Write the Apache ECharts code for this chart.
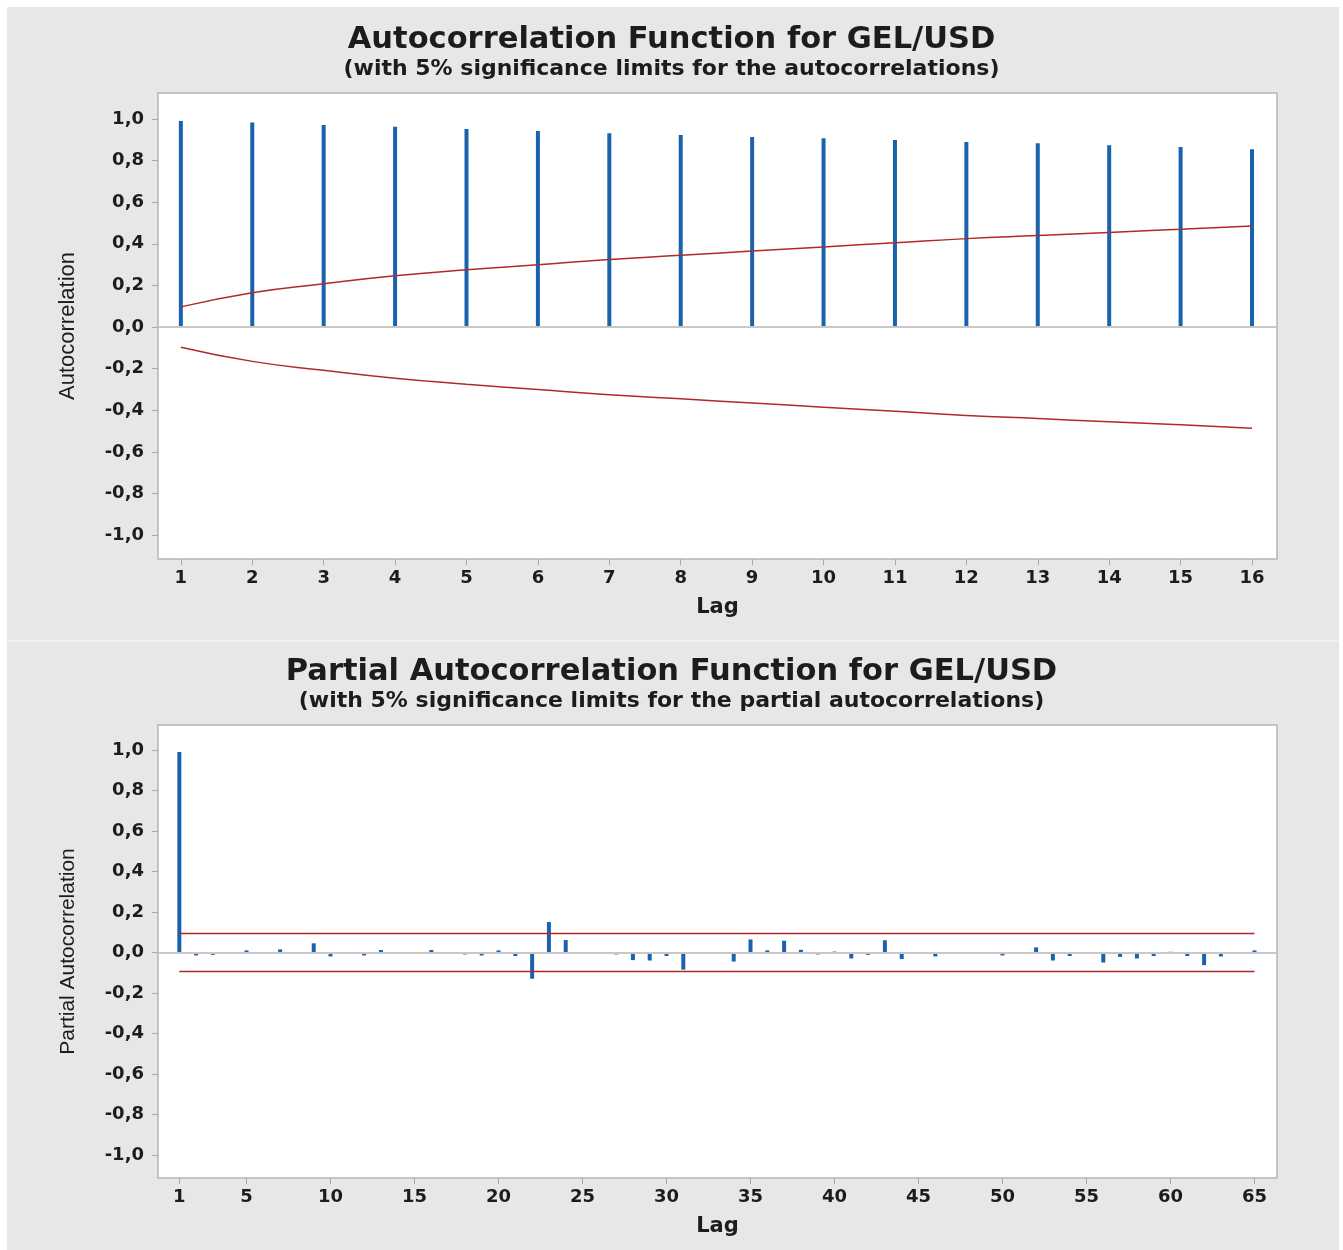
<!DOCTYPE html>
<html>
<head>
<meta charset="utf-8">
<script src="https://cdn.jsdelivr.net/npm/echarts@6/dist/echarts.min.js"></script>
<style>
  html, body { margin: 0; padding: 0; background: #ffffff; }
  #chart { width: 1343px; height: 1250px; }
</style>
</head>
<body>
<div id="chart"></div>
<script>
// ---------- data ----------
const acfLags = [1, 2, 3, 4, 5, 6, 7, 8, 9, 10, 11, 12, 13, 14, 15, 16];
const acfValues = [0.990, 0.983, 0.971, 0.963, 0.952, 0.942, 0.932, 0.923, 0.913, 0.908, 0.899, 0.889, 0.884, 0.874, 0.865, 0.855];
const acfLimits = [0.097, 0.165, 0.208, 0.246, 0.275, 0.300, 0.325, 0.345, 0.365, 0.385, 0.405, 0.425, 0.440, 0.455, 0.470, 0.486];

const pacfValues = [
  0.990, -0.015, -0.012, 0.002, 0.010, -0.003, 0.015, 0.000, 0.045, -0.020,
  0.000, -0.015, 0.012, 0.000, 0.000, 0.012, 0.000, -0.010, -0.015, 0.010,
  -0.018, -0.130, 0.150, 0.061, 0.000, 0.000, -0.010, -0.038, -0.040, -0.018,
  -0.085, 0.000, 0.000, -0.045, 0.064, 0.010, 0.058, 0.013, -0.010, 0.004,
  -0.030, -0.012, 0.060, -0.033, 0.000, -0.020, 0.000, 0.000, 0.000, -0.015,
  -0.004, 0.025, -0.040, -0.018, 0.000, -0.050, -0.022, -0.030, -0.018, 0.003,
  -0.018, -0.063, -0.020, 0.000, 0.010
];
const pacfLags = pacfValues.map((v, i) => i + 1);
const pacfLimit = 0.094;

const yTicks = [-1.0, -0.8, -0.6, -0.4, -0.2, 0.0, 0.2, 0.4, 0.6, 0.8, 1.0];
const acfXTicks = acfLags.slice();
const pacfXTicks = [1, 5, 10, 15, 20, 25, 30, 35, 40, 45, 50, 55, 60, 65];

const titles = {
  acf: 'Autocorrelation Function for GEL/USD',
  acfSub: '(with 5% significance limits for the autocorrelations)',
  pacf: 'Partial Autocorrelation Function for GEL/USD',
  pacfSub: '(with 5% significance limits for the partial autocorrelations)'
};

// ---------- styles ----------
const TXT = '#1c1c1c';
const BAR = '#1b62ad';
const RED = '#b02a2a';
const FONT = 'DejaVu Sans';

function yAxisCfg(gridIndex, name, min, max, nameSize) {
  return {
    type: 'value', gridIndex, min, max,
    name, nameLocation: 'middle', nameGap: 79,
    nameTextStyle: { fontFamily: "'Liberation Sans Narrow', 'Liberation Sans'", fontSize: nameSize, color: TXT },
    splitLine: { show: false },
    axisLine: { show: false, onZero: false },
    axisTick: { show: true, length: 6, customValues: yTicks, lineStyle: { color: '#a8a8a8' } },
    axisLabel: {
      customValues: yTicks, margin: 14, color: TXT, fontFamily: FONT, fontWeight: 'bold', fontSize: 18,
      formatter: v => v.toFixed(1).replace('.', ',')
    }
  };
}
function xAxisCfg(gridIndex, min, max, ticks) {
  return {
    type: 'value', gridIndex, min, max,
    name: 'Lag', nameLocation: 'middle', nameGap: 38,
    nameTextStyle: { fontFamily: FONT, fontWeight: 'bold', fontSize: 21, color: TXT },
    splitLine: { show: false },
    axisLine: { show: false, onZero: false },
    axisTick: { show: true, length: 6, customValues: ticks, lineStyle: { color: '#a8a8a8' } },
    axisLabel: { customValues: ticks, margin: 10, color: TXT, fontFamily: FONT, fontWeight: 'bold', fontSize: 18 }
  };
}

const zeroLine = {
  silent: true, symbol: 'none', label: { show: false },
  lineStyle: { color: '#c8c8c8', width: 2, type: 'solid' },
  data: [{ yAxis: 0 }]
};

const titleStyle = { fontFamily: FONT, fontWeight: 'bold', fontSize: 30.5, color: TXT };
const subStyle = { fontFamily: FONT, fontWeight: 'bold', fontSize: 22, color: TXT };

const option = {
  backgroundColor: '#ffffff',
  animation: false,
  graphic: [
    { type: 'rect', shape: { x: 7, y: 7, width: 1332, height: 1243 }, style: { fill: '#e6e7e7' }, z: -10 },
    { type: 'line', shape: { x1: 7, y1: 641, x2: 1339, y2: 641 }, style: { stroke: '#f3f3f3', lineWidth: 1.5 }, z: -9 }
  ],
  title: [
    { text: titles.acf, subtext: titles.acfSub, left: 'center', top: 20, itemGap: 2, textStyle: titleStyle, subtextStyle: subStyle },
    { text: titles.pacf, subtext: titles.pacfSub, left: 'center', top: 652, itemGap: 2, textStyle: titleStyle, subtextStyle: subStyle }
  ],
  grid: [
    { left: 158, top: 93, width: 1119, height: 466, show: true, backgroundColor: '#ffffff', borderColor: '#b5b5b5', borderWidth: 1.5 },
    { left: 158, top: 725, width: 1119, height: 453, show: true, backgroundColor: '#ffffff', borderColor: '#b5b5b5', borderWidth: 1.5 }
  ],
  xAxis: [
    xAxisCfg(0, 0.68, 16.35, acfXTicks),
    xAxisCfg(1, -0.27, 66.34, pacfXTicks)
  ],
  yAxis: [
    yAxisCfg(0, 'Autocorrelation', -1.115, 1.125, 22),
    yAxisCfg(1, 'Partial Autocorrelation', -1.114, 1.123, 21)
  ],
  series: [
    {
      type: 'bar', xAxisIndex: 0, yAxisIndex: 0, barWidth: 4,
      itemStyle: { color: BAR },
      data: acfLags.map((l, i) => [l, acfValues[i]]),
      markLine: zeroLine, z: 3
    },
    {
      type: 'line', xAxisIndex: 0, yAxisIndex: 0, smooth: true, symbol: 'none',
      lineStyle: { color: RED, width: 1.5 },
      data: acfLags.map((l, i) => [l, acfLimits[i]]), z: 4
    },
    {
      type: 'line', xAxisIndex: 0, yAxisIndex: 0, smooth: true, symbol: 'none',
      lineStyle: { color: RED, width: 1.5 },
      data: acfLags.map((l, i) => [l, -acfLimits[i]]), z: 4
    },
    {
      type: 'bar', xAxisIndex: 1, yAxisIndex: 1, barWidth: 4,
      itemStyle: { color: BAR },
      data: pacfLags.map((l, i) => [l, pacfValues[i]]),
      markLine: zeroLine, z: 3
    },
    {
      type: 'line', xAxisIndex: 1, yAxisIndex: 1, symbol: 'none',
      lineStyle: { color: RED, width: 1.5 },
      data: [[pacfLags[0], pacfLimit], [pacfLags[pacfLags.length - 1], pacfLimit]], z: 4
    },
    {
      type: 'line', xAxisIndex: 1, yAxisIndex: 1, symbol: 'none',
      lineStyle: { color: RED, width: 1.5 },
      data: [[pacfLags[0], -pacfLimit], [pacfLags[pacfLags.length - 1], -pacfLimit]], z: 4
    }
  ]
};

const chart = echarts.init(document.getElementById('chart'), null, { renderer: 'canvas' });
chart.setOption(option);
</script>
</body>
</html>
